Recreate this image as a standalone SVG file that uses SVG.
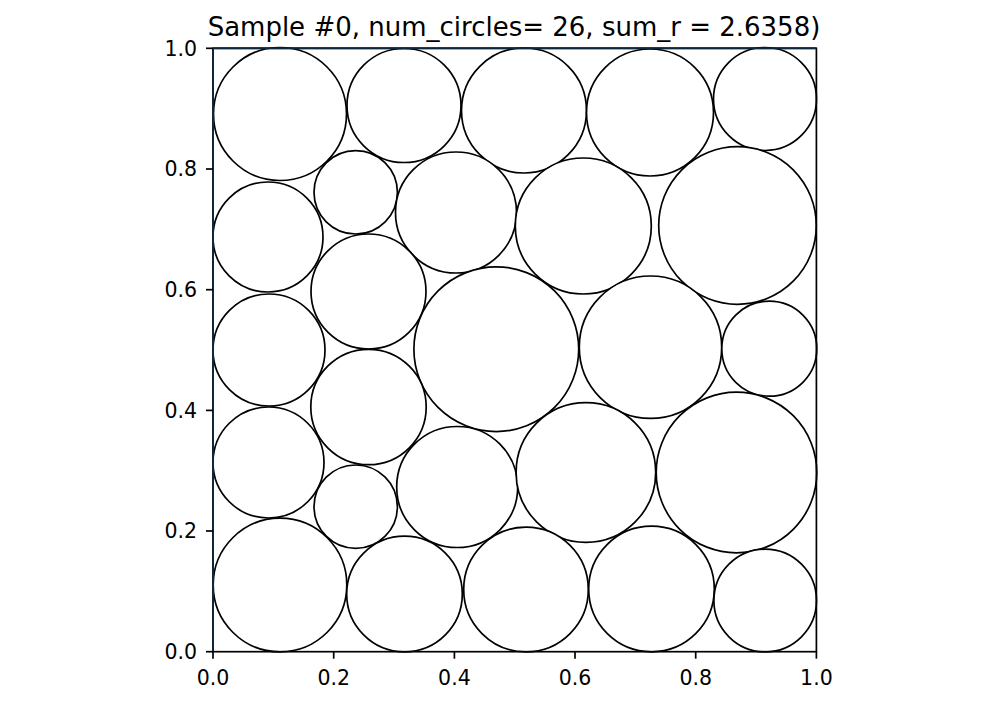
<svg xmlns="http://www.w3.org/2000/svg" width="996" height="704" viewBox="0 0 996 704">
<style>
.c{fill:#fff;stroke:#000;stroke-width:1.7}
.sp{fill:none;stroke:#000;stroke-width:1.7}
.tk{stroke:#000;stroke-width:1.7}
.t{font-family:"DejaVu Sans",sans-serif;font-size:20.5px;fill:#000}
.ti{font-family:"DejaVu Sans",sans-serif;font-size:26px;fill:#000}
</style>
<rect width="996" height="704" fill="#fff"/>
<g id="circles">
<circle class="c" cx="280" cy="114" r="66.5"/>
<circle class="c" cx="404" cy="105.5" r="57"/>
<circle class="c" cx="524" cy="110.5" r="62.5"/>
<circle class="c" cx="650" cy="112.5" r="63.5"/>
<circle class="c" cx="765" cy="99" r="51.5"/>
<circle class="c" cx="355.7" cy="192.3" r="41.7"/>
<circle class="c" cx="456" cy="212.5" r="60.5"/>
<circle class="c" cx="583.3" cy="226" r="68"/>
<circle class="c" cx="737.5" cy="225.5" r="78.8"/>
<circle class="c" cx="268" cy="237" r="55"/>
<circle class="c" cx="368.5" cy="291.5" r="57.5"/>
<circle class="c" cx="496.3" cy="349.2" r="82.4"/>
<circle class="c" cx="650.5" cy="347.2" r="71.2"/>
<circle class="c" cx="769.3" cy="348.7" r="47.5"/>
<circle class="c" cx="269" cy="350" r="56"/>
<circle class="c" cx="368.5" cy="407" r="57.7"/>
<circle class="c" cx="268.5" cy="462.5" r="55.5"/>
<circle class="c" cx="355.7" cy="506.7" r="41.7"/>
<circle class="c" cx="457.2" cy="487" r="60.5"/>
<circle class="c" cx="585.9" cy="472.5" r="69.8"/>
<circle class="c" cx="736.5" cy="472.5" r="80.3"/>
<circle class="c" cx="280" cy="585" r="66.8"/>
<circle class="c" cx="404.5" cy="594" r="57.8"/>
<circle class="c" cx="526" cy="589.5" r="62.3"/>
<circle class="c" cx="651.5" cy="589" r="62.8"/>
<circle class="c" cx="765.2" cy="600.5" r="51.3"/>
</g>
<g id="axes">
<rect class="sp" x="213" y="48.3" width="603.4" height="603.4"/>
<line x1="213" y1="48.3" x2="213" y2="651.7" stroke="#10263a" stroke-width="2"/>
<line x1="213" y1="48.3" x2="816.4" y2="48.3" stroke="#10263a" stroke-width="2"/>
<g id="xticks">
<line class="tk" x1="213" y1="651.7" x2="213" y2="658.7"/>
<line class="tk" x1="333.7" y1="651.7" x2="333.7" y2="658.7"/>
<line class="tk" x1="454.4" y1="651.7" x2="454.4" y2="658.7"/>
<line class="tk" x1="575" y1="651.7" x2="575" y2="658.7"/>
<line class="tk" x1="695.7" y1="651.7" x2="695.7" y2="658.7"/>
<line class="tk" x1="816.4" y1="651.7" x2="816.4" y2="658.7"/>
<g class="t" text-anchor="middle">
<text x="213" y="684.5">0.0</text>
<text x="333.7" y="684.5">0.2</text>
<text x="454.4" y="684.5">0.4</text>
<text x="575" y="684.5">0.6</text>
<text x="695.7" y="684.5">0.8</text>
<text x="816.4" y="684.5">1.0</text>
</g>
</g>
<g id="yticks">
<line class="tk" x1="206" y1="651.7" x2="213" y2="651.7"/>
<line class="tk" x1="206" y1="531" x2="213" y2="531"/>
<line class="tk" x1="206" y1="410.4" x2="213" y2="410.4"/>
<line class="tk" x1="206" y1="289.7" x2="213" y2="289.7"/>
<line class="tk" x1="206" y1="169" x2="213" y2="169"/>
<line class="tk" x1="206" y1="48.3" x2="213" y2="48.3"/>
<g class="t" text-anchor="end">
<text x="197" y="659">0.0</text>
<text x="197" y="538.3">0.2</text>
<text x="197" y="417.7">0.4</text>
<text x="197" y="297">0.6</text>
<text x="197" y="176.3">0.8</text>
<text x="197" y="55.6">1.0</text>
</g>
</g>
</g>
<text id="title" class="ti" x="514" y="36" text-anchor="middle">Sample #0, num_circles= 26, sum_r = 2.6358)</text>
</svg>
